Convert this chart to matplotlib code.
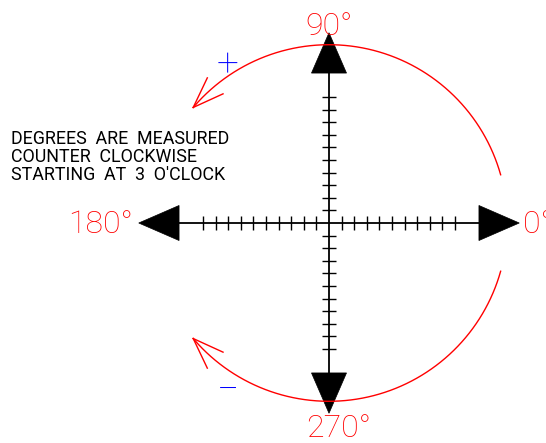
import numpy as np
import matplotlib
matplotlib.use("Agg")
import matplotlib.pyplot as plt
from matplotlib.patches import Polygon

# ---- data ----
direction_angles = [0, 90, 180, 270]
direction_labels = ["0°", "90°", "180°", "270°"]
ticks_per_half_axis = 10
arc_spans = [(15.7, 139.6), (-15.7, -139.6)]     # degrees, start -> arrow end
sign_labels = ["+", "\u2212"]
note_lines = ["DEGREES  ARE  MEASURED",
              "COUNTER  CLOCKWISE",
              "STARTING  AT  3  O'CLOCK"]

# ---- layout (units = tick spacing) ----
W, H, DPI = 546, 443, 100
px = 12.6                      # pixels per unit
cx, cy = 329, 223              # centre in pixels (from top-left)
tip, base, half_w = 15.1, 11.9, 1.39
tick_half = 0.52
R = 14.15

fig = plt.figure(figsize=(W / DPI, H / DPI), dpi=DPI)
ax = fig.add_axes([0, 0, 1, 1])
ax.set_xlim(-cx / px, (W - cx) / px)
ax.set_ylim(-(H - cy) / px, cy / px)
ax.axis("off")

font = ["Roboto", "DejaVu Sans"]

# axes with arrows
for ang in direction_angles:
    t = np.deg2rad(ang)
    d = np.array([np.cos(t), np.sin(t)])
    n = np.array([-d[1], d[0]])
    ax.plot([0, base * d[0]], [0, base * d[1]], color="black", lw=1.3,
            solid_capstyle="butt")
    tri = [tip * d, base * d + half_w * n, base * d - half_w * n]
    ax.add_patch(Polygon(tri, closed=True, facecolor="black",
                         edgecolor="black", lw=0.5))
    for k in range(1, ticks_per_half_axis + 1):
        p = k * d
        ax.plot([p[0] - tick_half * n[0], p[0] + tick_half * n[0]],
                [p[1] - tick_half * n[1], p[1] + tick_half * n[1]],
                color="black", lw=1.0, solid_capstyle="butt")

# red arcs with open arrowheads
for (a0, a1) in arc_spans:
    th = np.deg2rad(np.linspace(a0, a1, 200))
    ax.plot(R * np.cos(th), R * np.sin(th), color="#ff0000", lw=1.0)
    te = np.deg2rad(a1)
    tipp = np.array([R * np.cos(te), R * np.sin(te)])
    back = te - np.sign(a1 - a0) * 2.5 / R
    bp = np.array([R * np.cos(back), R * np.sin(back)])
    dirv = (bp - tipp) / np.linalg.norm(bp - tipp)
    for s in (20, -20):
        r = np.deg2rad(s)
        rot = np.array([[np.cos(r), -np.sin(r)], [np.sin(r), np.cos(r)]])
        e = tipp + 2.6 * rot @ dirv
        ax.plot([tipp[0], e[0]], [tipp[1], e[1]], color="#ff0000", lw=1.0)

# direction labels
lab_pos = {0: ((523 - cx) / px, -(233 - cy) / px, "left"),
           90: ((305 - cx) / px, (cy - 35) / px, "left"),
           180: ((133 - cx) / px, -(233 - cy) / px, "right"),
           270: ((306 - cx) / px, -(437 - cy) / px, "left")}
for ang, lab in zip(direction_angles, direction_labels):
    x, y, ha = lab_pos[ang]
    ax.text(x, y, lab, color="#ff0000", fontsize=23, family=font,
            fontweight="light", ha=ha, va="baseline")

# signs
for lab, ypx in zip(sign_labels, [61, 387]):
    ax.text((228 - cx) / px, (cy - ypx) / px, lab, color="#0000ff",
            fontsize=28, family=font, fontweight="light",
            ha="center", va="center_baseline")

# note
for i, line in enumerate(note_lines):
    ax.text((11 - cx) / px, (cy - (143.5 + 18.3 * i)) / px, line,
            color="black", fontsize=12.9, family=font, ha="left",
            va="baseline")

fig.savefig("out.png", dpi=DPI, facecolor="white")
